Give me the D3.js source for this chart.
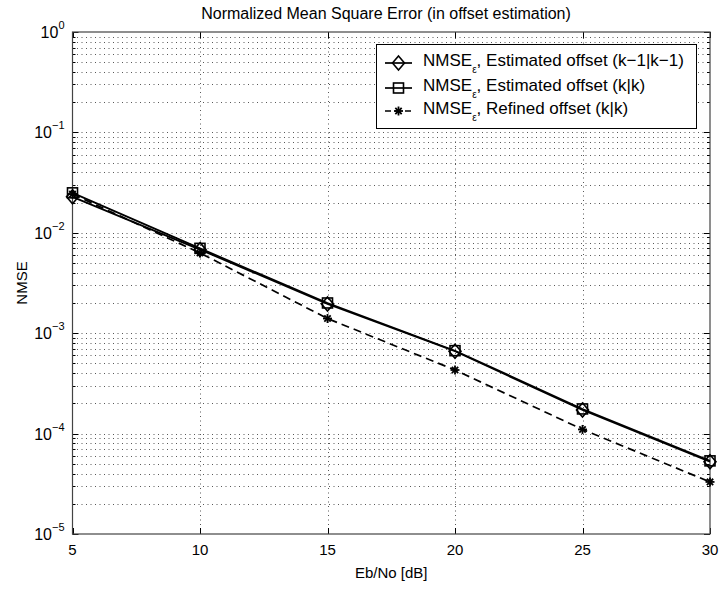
<!DOCTYPE html>
<html>
<head>
<meta charset="utf-8">
<script src="https://cdn.jsdelivr.net/npm/d3@7"></script>
<style>
  body { margin: 0; background: #fff; }
  svg { font-family: "Liberation Sans", Arial, Helvetica, sans-serif; }
</style>
</head>
<body>
<svg id="chart" width="720" height="590"></svg>
<script>
// Eb/No values in dB
const ebno = [5, 10, 15, 20, 25, 30];
// NMSE of offset estimate (k-1|k-1)
const nmsePred = [0.0228, 0.0068, 0.00195, 0.00066, 0.000172, 0.0000525];
// NMSE of offset estimate (k|k)
const nmseFilt = [0.0250, 0.0070, 0.00200, 0.00067, 0.000176, 0.0000535];
// NMSE of refined offset (k|k)
const nmseRef = [0.0243, 0.0063, 0.00140, 0.00043, 0.000110, 0.0000330];
const xTicks = [5, 10, 15, 20, 25, 30];
const yDecades = [-5, -4, -3, -2, -1, 0];

const margin = { left: 72.5, right: 10, top: 32, bottom: 56 };
const W = 720, H = 590;
const svg = d3.select("#chart");

const x = d3.scaleLinear().domain([5, 30]).range([margin.left, W - margin.right]);
const y = d3.scaleLog().domain([1e-5, 1]).range([H - margin.bottom, margin.top]);

const x0 = x.range()[0], x1 = x.range()[1];
const y0 = y.range()[0], y1 = y.range()[1];

// minor and major log values
const yGridVals = [];
for (let e = -5; e < 0; e++) {
  for (let m = 1; m <= 9; m++) yGridVals.push(m * Math.pow(10, e));
}
yGridVals.push(1);

const grid = svg.append("g").attr("stroke", "#000").attr("stroke-width", 1)
  .attr("stroke-dasharray", "1,3.5").attr("opacity", 0.65);
grid.selectAll("line.h").data(yGridVals.filter(v => v > 1e-5 && v < 1)).join("line")
  .attr("x1", x0).attr("x2", x1)
  .attr("y1", d => Math.round(y(d)) + 0.5).attr("y2", d => Math.round(y(d)) + 0.5);
grid.selectAll("line.v").data(xTicks.filter(v => v > 5 && v < 30)).join("line")
  .attr("class", "v")
  .attr("y1", y0).attr("y2", y1)
  .attr("x1", d => Math.round(x(d)) + 0.5).attr("x2", d => Math.round(x(d)) + 0.5);

// tick marks on all four sides
const ticks = svg.append("g").attr("stroke", "#000").attr("stroke-width", 1);
yGridVals.forEach(v => {
  const isMajor = Math.abs(Math.log10(v) - Math.round(Math.log10(v))) < 1e-9;
  const len = isMajor ? 6 : 3;
  const yy = Math.round(y(v)) + 0.5;
  ticks.append("line").attr("x1", x0).attr("x2", x0 + len).attr("y1", yy).attr("y2", yy);
  ticks.append("line").attr("x1", x1).attr("x2", x1 - len).attr("y1", yy).attr("y2", yy);
});
xTicks.forEach(v => {
  const xx = Math.round(x(v)) + 0.5;
  ticks.append("line").attr("x1", xx).attr("x2", xx).attr("y1", y0).attr("y2", y0 - 6);
  ticks.append("line").attr("x1", xx).attr("x2", xx).attr("y1", y1).attr("y2", y1 + 6);
});

// frame
svg.append("rect").attr("x", x0).attr("y", y1).attr("width", x1 - x0).attr("height", y0 - y1)
  .attr("fill", "none").attr("stroke", "#444").attr("stroke-width", 1.2);

// x tick labels
svg.append("g").selectAll("text").data(xTicks).join("text")
  .attr("x", d => x(d)).attr("y", y0 + 21)
  .attr("text-anchor", "middle").attr("font-size", 15).text(d => d);

// y tick labels: 10^e
const yl = svg.append("g");
yDecades.forEach(e => {
  const t = yl.append("text").attr("x", x0 - 8).attr("y", y(Math.pow(10, e)) + 6)
    .attr("text-anchor", "end").attr("font-size", 16);
  t.append("tspan").text("10");
  t.append("tspan").attr("dy", -9).attr("font-size", 11).text(e === 0 ? "0" : "\u2212" + Math.abs(e));
});

// title and axis titles
svg.append("text").attr("x", 386).attr("y", 18.5).attr("text-anchor", "middle")
  .attr("font-size", 16).text("Normalized Mean Square Error (in offset estimation)");
svg.append("text").attr("x", (x0 + x1) / 2).attr("y", 578).attr("text-anchor", "middle")
  .attr("font-size", 15).text("Eb/No [dB]");
svg.append("text").attr("transform", `translate(27,${(y0 + y1) / 2}) rotate(-90)`)
  .attr("text-anchor", "middle").attr("font-size", 15).text("NMSE");

// series
const series = [
  { vals: nmsePred, marker: "diamond", dash: null },
  { vals: nmseFilt, marker: "square", dash: null },
  { vals: nmseRef, marker: "star", dash: "8,5" }
];
const line = d3.line().x(d => x(d[0])).y(d => y(d[1]));

function drawMarker(g, type, cx, cy) {
  if (type === "diamond") {
    g.append("path").attr("d", `M${cx},${cy - 7}L${cx + 6},${cy}L${cx},${cy + 7}L${cx - 6},${cy}Z`)
      .attr("fill", "none").attr("stroke", "#000").attr("stroke-width", 1.6);
  } else if (type === "square") {
    g.append("rect").attr("x", cx - 5).attr("y", cy - 5).attr("width", 10).attr("height", 10)
      .attr("fill", "none").attr("stroke", "#000").attr("stroke-width", 1.6);
  } else {
    const r = 4.5;
    [0, 45, 90, 135].forEach(a => {
      const rad = a * Math.PI / 180;
      g.append("line").attr("x1", cx - r * Math.cos(rad)).attr("y1", cy - r * Math.sin(rad))
        .attr("x2", cx + r * Math.cos(rad)).attr("y2", cy + r * Math.sin(rad))
        .attr("stroke", "#000").attr("stroke-width", 1.8);
    });
  }
}

const plot = svg.append("g");
series.forEach(s => {
  const pts = ebno.map((e, i) => [e, s.vals[i]]);
  plot.append("path").attr("d", line(pts)).attr("fill", "none").attr("stroke", "#000")
    .attr("stroke-width", 1.7).attr("stroke-dasharray", s.dash);
  const mg = plot.append("g");
  pts.forEach(p => drawMarker(mg, s.marker, x(p[0]), y(p[1])));
});

// legend
const lg = svg.append("g");
lg.append("rect").attr("x", 376.5).attr("y", 44.5).attr("width", 320).attr("height", 84)
  .attr("fill", "#fff").attr("stroke", "#000").attr("stroke-width", 1);
const labels = ["Estimated offset (k\u22121|k\u22121)", "Estimated offset (k|k)", "Refined offset (k|k)"];
const rows = [63, 88, 111];
series.forEach((s, i) => {
  const yy = rows[i];
  lg.append("line").attr("x1", 385).attr("x2", 412).attr("y1", yy).attr("y2", yy)
    .attr("stroke", "#000").attr("stroke-width", 1.7).attr("stroke-dasharray", s.dash ? "6,4" : null);
  drawMarker(lg, s.marker, 398.5, yy);
  const t = lg.append("text").attr("x", 423).attr("y", yy + 3).attr("font-size", 17);
  t.append("tspan").text("NMSE");
  t.append("tspan").attr("dy", 7).attr("font-size", 10).text("\u03b5");
  t.append("tspan").attr("dy", -7).text(", " + labels[i]);
});
</script>
</body>
</html>
